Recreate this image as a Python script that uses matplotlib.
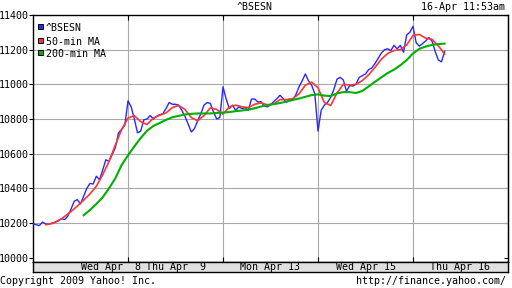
import matplotlib
matplotlib.use("Agg")
import matplotlib.pyplot as plt
from matplotlib.patches import Rectangle
import numpy as np

nan = np.nan

# ^BSESN intraday, 30 samples per trading day (last day partial)
bse_days = [
    [10195, 10190, 10185, 10205, 10195, 10192, 10200, 10205, 10215, 10225,
     10220, 10240, 10280, 10325, 10335, 10310, 10355, 10400, 10428, 10425,
     10470, 10450, 10505, 10565, 10555, 10595, 10635, 10720, 10740, 10765],
    [10905, 10870, 10800, 10720, 10730, 10795, 10800, 10820, 10800, 10815,
     10825, 10830, 10860, 10895, 10885, 10885, 10880, 10850, 10815, 10770,
     10725, 10745, 10790, 10830, 10880, 10895, 10890, 10840, 10800, 10808],
    [10985, 10915, 10860, 10880, 10850, 10870, 10860, 10865, 10850, 10915,
     10915, 10898, 10900, 10875, 10870, 10882, 10900, 10917, 10937, 10918,
     10895, 10915, 10910, 10940, 10985, 11020, 11060, 11020, 10995, 10945],
    [10730, 10850, 10880, 10895, 10925, 10970, 11030, 11040, 11025, 10960,
     10993, 10990, 11000, 11040, 11050, 11060, 11085, 11095, 11120, 11150,
     11180, 11200, 11205, 11195, 11225, 11205, 11225, 11185, 11285, 11300],
    [11335, 11240, 11220, 11235, 11250, 11270, 11250, 11190, 11140, 11130,
     11190],
]

# moving averages, 15 samples per trading day
ma50_days = [
    [nan, nan, 10190, 10197, 10212, 10238, 10266, 10298, 10332, 10368,
     10412, 10478, 10555, 10650, 10740],
    [10805, 10820, 10785, 10768, 10805, 10822, 10835, 10866, 10878, 10855,
     10808, 10790, 10820, 10864, 10855],
    [10828, 10870, 10880, 10870, 10866, 10885, 10893, 10882, 10886, 10912,
     10912, 10917, 10945, 10995, 11013],
    [10980, 10895, 10878, 10950, 11000, 10996, 11000, 11022, 11055, 11098,
     11145, 11178, 11195, 11200, 11227],
    [11282, 11288, 11266, 11260, 11222, 11175],
]

ma200_days = [
    [nan, nan, nan, nan, nan, nan, nan, nan, 10245, 10275,
     10310, 10348, 10400, 10458, 10535],
    [10590, 10642, 10690, 10732, 10760, 10777, 10795, 10810, 10818, 10826,
     10830, 10832, 10832, 10832, 10835],
    [10837, 10840, 10845, 10849, 10854, 10862, 10872, 10880, 10886, 10892,
     10900, 10910, 10918, 10928, 10938],
    [10942, 10935, 10932, 10948, 10955, 10955, 10950, 10962, 10988, 11015,
     11040, 11065, 11085, 11110, 11140],
    [11178, 11205, 11218, 11228, 11232, 11235],
]

day_labels = ["Wed Apr  8", "Thu Apr  9", "Mon Apr 13", "Wed Apr 15", "Thu Apr 16"]
y_ticks = [10000, 10200, 10400, 10600, 10800, 11000, 11200, 11400]
legend_names = ["^BSESN", "50-min MA", "200-min MA"]

blue = "#2828ff"
red = "#ff3434"
green = "#00b000"
grid_col = "#a8a8a8"

plt.rcParams["font.family"] = ["DejaVu Sans Mono"]
plt.rcParams["font.size"] = 7.2

W, H = 512.0, 288.0


def fx(px):
    return px / W


def fy(py):
    return 1 - py / H


def series_xy(days, per_day):
    xs, ys = [], []
    for d, vals in enumerate(days):
        for i, v in enumerate(vals):
            xs.append(d + i / per_day)
            ys.append(v)
    return np.array(xs), np.array(ys, dtype=float)


fig = plt.figure(figsize=(5.12, 2.88), dpi=100)
ax = fig.add_axes([fx(33), fy(262), 475 / W, 247 / H])

for d in range(1, 5):
    ax.axvline(d, color=grid_col, lw=0.8, zorder=1)
for v in y_ticks[1:-1]:
    ax.axhline(v, color=grid_col, lw=0.8, zorder=1)

x, y = series_xy(bse_days, 30)
ax.plot(x, y, color=blue, lw=1.0, zorder=3)
x, y = series_xy(ma50_days, 15)
ax.plot(x, y, color=red, lw=1.2, zorder=4)
x, y = series_xy(ma200_days, 15)
ax.plot(x, y, color=green, lw=1.5, zorder=5)

ax.set_xlim(0, 5)
ax.set_ylim(9975, 11398)
ax.set_yticks(y_ticks)
ax.set_xticks([1, 2, 3, 4])
ax.set_xticklabels([])
ax.tick_params(axis="y", direction="out", length=2.6, width=0.8, pad=0.5, labelsize=7.2)
ax.tick_params(axis="x", direction="in", length=3.6, width=0.8, top=True, colors="black")
for s in ax.spines.values():
    s.set_linewidth(1.0)
    s.set_color("black")

sec = ax.secondary_yaxis("right")
sec.set_yticks(y_ticks)
sec.set_yticklabels([])
sec.tick_params(direction="in", length=2.6, width=0.8)

# date band under the plot
band = fig.add_axes([fx(33), fy(272), 475 / W, 10 / H])
band.set_facecolor("#e0e0e0")
band.set_xlim(0, 5)
band.set_ylim(0, 1)
band.set_xticks([])
band.set_yticks([])
for s in band.spines.values():
    s.set_linewidth(1.0)
    s.set_color("black")
label_pos = [0.82, 1.5, 2.5, 3.5, 4.5]
for p, lab in zip(label_pos, day_labels):
    band.text(p, 0.45, lab, ha="center", va="center")

# legend boxes
rows = [26.7, 40.2, 52.5]
for r, name, col in zip(rows, legend_names, [blue, red, green]):
    fig.add_artist(Rectangle((fx(37.5), fy(r + 2.6)), 5 / W, 5 / H,
                             transform=fig.transFigure, facecolor=col,
                             edgecolor="black", lw=0.7))
    fig.text(fx(46), fy(r + 1.5), name, ha="left", va="center")

fig.text(fx(255), fy(7), "^BSESN", ha="center", va="center")
fig.text(fx(505), fy(7), "16-Apr 11:53am", ha="right", va="center")
fig.text(fx(0), fy(281), "Copyright 2009 Yahoo! Inc.", ha="left", va="center")
fig.text(fx(506), fy(281), "http://finance.yahoo.com/", ha="right", va="center")

fig.savefig("out.png", dpi=100)
